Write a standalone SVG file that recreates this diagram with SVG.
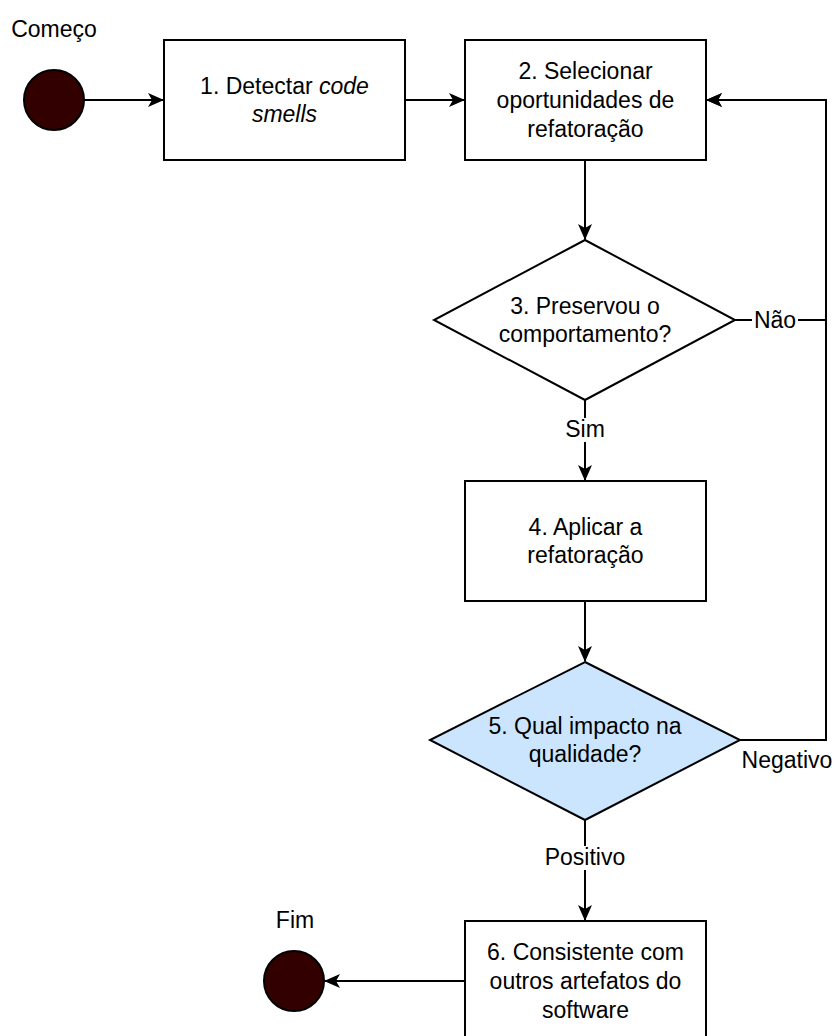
<svg xmlns="http://www.w3.org/2000/svg" width="837" height="1036" viewBox="0 0 837 1036">
<style>
text{font-family:"Liberation Sans",Arial,Helvetica,sans-serif;font-size:23px;fill:#000;text-anchor:middle}
.box{fill:#fff;stroke:#000;stroke-width:2}
.dot{fill:#330000;stroke:#000;stroke-width:2}
.edge{fill:none;stroke:#000;stroke-width:2}
.bg{fill:#fff}
.it{font-style:italic}
</style>
<defs>
<marker id="arr" viewBox="0 0 16 14" refX="15" refY="7" markerWidth="16" markerHeight="14" orient="auto" markerUnits="userSpaceOnUse">
<path d="M0,0 L16,7 L0,14 L4,7 Z" fill="#000"/>
</marker>
</defs>
<rect width="837" height="1036" fill="#fff"/>
<g id="connectors">
<path class="edge" d="M84,100 H163" marker-end="url(#arr)"/>
<path class="edge" d="M405,100 H464" marker-end="url(#arr)"/>
<path class="edge" d="M585,160 V239" marker-end="url(#arr)"/>
<path class="edge" d="M735,320 H826 V100 H707" marker-end="url(#arr)"/>
<path class="edge" d="M585,400 V480" marker-end="url(#arr)"/>
<path class="edge" d="M585,601 V661" marker-end="url(#arr)"/>
<path class="edge" d="M740,740 H826 V100 H707" marker-end="url(#arr)"/>
<path class="edge" d="M585,820 V920" marker-end="url(#arr)"/>
<path class="edge" d="M465,981 H325" marker-end="url(#arr)"/>
<rect class="bg" x="752" y="308" width="46" height="24"/>
<text x="775" y="328">Não</text>
<rect class="bg" x="564" y="418" width="42" height="24"/>
<text x="585" y="437">Sim</text>
<text x="787" y="768">Negativo</text>
<rect class="bg" x="544" y="846" width="82" height="24"/>
<text x="585" y="865">Positivo</text>
</g>
<g id="start">
<circle class="dot" cx="54" cy="100" r="30"/>
<text x="54" y="37">Começo</text>
</g>
<g id="n1">
<rect class="box" x="164" y="40" width="241" height="120"/>
<text x="284.5" y="93.6">1. Detectar <tspan class="it">code</tspan></text>
<text x="284.5" y="122.4" class="it">smells</text>
</g>
<g id="n2">
<rect class="box" x="465" y="40" width="241" height="120"/>
<text x="585.5" y="79">2. Selecionar</text>
<text x="585.5" y="108">oportunidades de</text>
<text x="585.5" y="137">refatoração</text>
</g>
<g id="n3">
<polygon class="box" points="585,240 735,320 585,400 434,320"/>
<text x="585" y="313.6">3. Preservou o</text>
<text x="585" y="342.4">comportamento?</text>
</g>
<g id="n4">
<rect class="box" x="465" y="481" width="241" height="120"/>
<text x="585.5" y="534.6">4. Aplicar a</text>
<text x="585.5" y="563.4">refatoração</text>
</g>
<g id="n5">
<polygon points="585,662 740,740 585,820 430,740" fill="#cce5ff" stroke="#000" stroke-width="2"/>
<text x="585" y="733.6">5. Qual impacto na</text>
<text x="585" y="762.4">qualidade?</text>
</g>
<g id="n6">
<rect class="box" x="465" y="921" width="241" height="120"/>
<text x="585.5" y="960.2">6. Consistente com</text>
<text x="585.5" y="989">outros artefatos do</text>
<text x="585.5" y="1017.8">software</text>
</g>
<g id="end">
<circle class="dot" cx="294" cy="981" r="30"/>
<text x="295" y="928">Fim</text>
</g>
</svg>
